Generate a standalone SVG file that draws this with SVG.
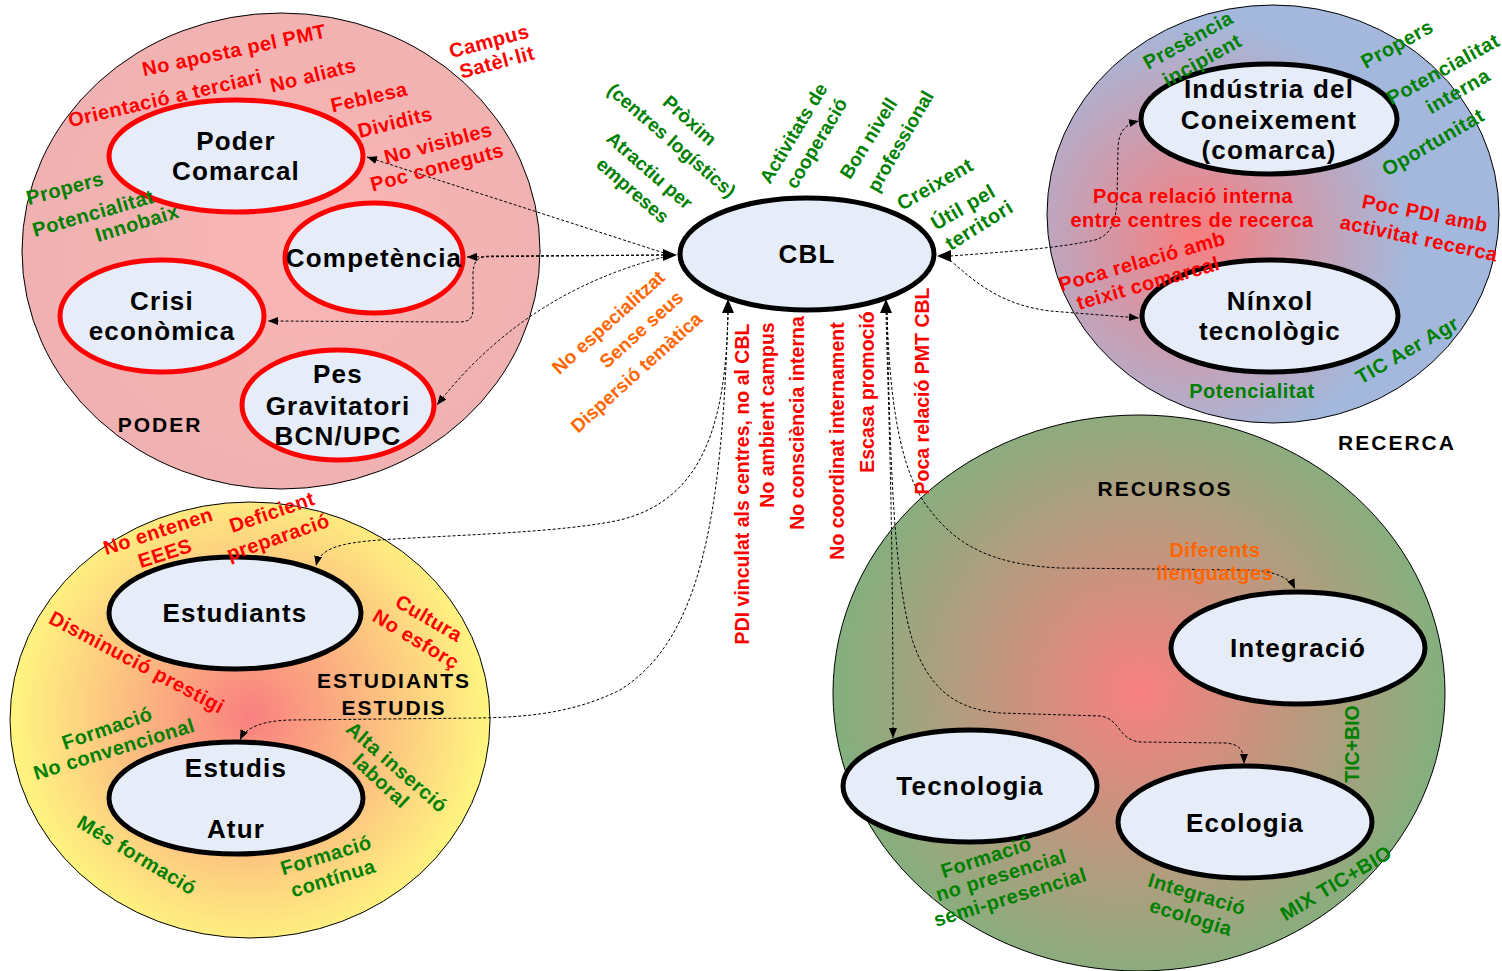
<svg xmlns="http://www.w3.org/2000/svg" width="1502" height="971" viewBox="0 0 1502 971">
<defs>
<radialGradient id="gPoder" gradientUnits="userSpaceOnUse" cx="300" cy="230" r="260">
<stop offset="0" stop-color="#FBB6B6"/><stop offset="1" stop-color="#EFB1B1"/>
</radialGradient>
<radialGradient id="gRecerca" gradientUnits="userSpaceOnUse" cx="1195" cy="235" r="215">
<stop offset="0" stop-color="#F77F7F"/><stop offset="1" stop-color="#A3B8DC"/>
</radialGradient>
<radialGradient id="gRecursos" gradientUnits="userSpaceOnUse" cx="1140" cy="690" r="320">
<stop offset="0" stop-color="#F87F7F"/><stop offset="1" stop-color="#7EB27E"/>
</radialGradient>
<radialGradient id="gEstud" gradientUnits="userSpaceOnUse" cx="250" cy="715" r="250">
<stop offset="0" stop-color="#F98080"/><stop offset="1" stop-color="#FFFB80"/>
</radialGradient>
<marker id="ah" markerWidth="10" markerHeight="8" refX="10" refY="4" orient="auto" markerUnits="userSpaceOnUse">
<path d="M0,0 L10,4 L0,8 z" fill="#000"/>
</marker>
<style>
.reg{stroke:#000;stroke-width:1}
.nb{fill:#E6ECF8;stroke:#000;stroke-width:5}
.nr{fill:#E6ECF8;stroke:#FF0000;stroke-width:5}
text{font-family:"Liberation Sans",Arial,sans-serif;font-weight:bold;text-anchor:middle}
.nt{font-size:26px;letter-spacing:1.2px;fill:#000}
.rt{font-size:21px;letter-spacing:2px;fill:#000}
.lb{font-size:20px;letter-spacing:0.5px}
.st{font-size:19px;letter-spacing:0}
.vt{font-size:19.5px;letter-spacing:0}
.r{fill:#FF0000}.g{fill:#008000}.o{fill:#FF6600}
.cn{fill:none;stroke:#000;stroke-width:1;stroke-dasharray:3 2}
</style>
</defs>
<rect width="1502" height="971" fill="#FFFFFF"/>

<g id="region-poder"><ellipse class="reg" cx="281" cy="251" rx="259" ry="238" fill="url(#gPoder)"/></g>
<g id="region-recerca"><ellipse class="reg" cx="1273" cy="214" rx="226" ry="209" fill="url(#gRecerca)"/></g>
<g id="region-recursos"><ellipse class="reg" cx="1139" cy="693" rx="306" ry="278" fill="url(#gRecursos)"/></g>
<g id="region-estudiants"><ellipse class="reg" cx="250" cy="720" rx="240" ry="218" fill="url(#gEstud)"/></g>

<g id="connectors">
<path class="cn" d="M664,253 L367,157" marker-end="url(#ah)"/>
<path class="cn" d="M664,255 L467,257" marker-end="url(#ah)"/>
<path class="cn" d="M664,255 L492,256 C476,256 473,262 473,276 L473,308 C473,319 469,322 458,322 L268,321" marker-end="url(#ah)"/>
<path class="cn" d="M664,257 Q525,292 437,405" marker-end="url(#ah)"/>
<path class="cn" d="M728,312 C726,430 700,500 620,520 C560,533 450,535 380,540 C340,543 320,548 316,566" marker-end="url(#ah)"/>
<path class="cn" d="M728,312 C722,520 700,640 620,690 C570,715 520,717 480,718 L290,720 C262,721 246,727 240,740" marker-end="url(#ah)"/>
<path class="cn" d="M886,312 C888,400 893,500 893,738" marker-end="url(#ah)"/>
<path class="cn" d="M887,312 C890,450 893,600 918,655 C938,700 968,710 1000,713 L1100,716 C1120,718 1118,740 1140,742 L1225,743 C1240,744 1244,750 1244,764" marker-end="url(#ah)"/>
<path class="cn" d="M887,312 C890,420 905,480 930,510 C960,550 1000,565 1060,568 L1250,570 C1275,571 1290,578 1295,589" marker-end="url(#ah)"/>
<path class="cn" d="M950,256 C1005,252 1060,248 1095,240 C1112,235 1116,220 1117,200 L1118,150 C1118,132 1125,124 1139,121" marker-end="url(#ah)"/>
<path class="cn" d="M950,260 C978,285 1003,305 1050,311 L1139,318" marker-end="url(#ah)"/>
<polygon points="663,249 677,255 663,261" fill="#000"/>
<polygon points="722,313 728,299 734,313" fill="#000"/>
<polygon points="880,313 886,299 892,313" fill="#000"/>
<polygon points="951,250 937,256 951,262" fill="#000"/>
</g>

<g id="node-cbl"><ellipse class="nb" cx="807" cy="254" rx="127" ry="56"/><text class="nt" x="807" y="263">CBL</text></g>
<g id="node-poder-comarcal"><ellipse class="nr" cx="236" cy="156" rx="127" ry="56"/><text class="nt" x="236" y="150">Poder</text><text class="nt" x="236" y="180">Comarcal</text></g>
<g id="node-competencia"><ellipse class="nr" cx="374" cy="258" rx="89" ry="55"/><text class="nt" x="374" y="267">Competència</text></g>
<g id="node-crisi"><ellipse class="nr" cx="162" cy="316" rx="102" ry="56"/><text class="nt" x="162" y="310">Crisi</text><text class="nt" x="162" y="340">econòmica</text></g>
<g id="node-pes"><ellipse class="nr" cx="338" cy="405" rx="96" ry="55"/><text class="nt" x="338" y="383">Pes</text><text class="nt" x="338" y="415">Gravitatori</text><text class="nt" x="338" y="445">BCN/UPC</text></g>
<g id="node-industria"><ellipse class="nb" cx="1269" cy="119" rx="128" ry="55"/><text class="nt" x="1269" y="98">Indústria del</text><text class="nt" x="1269" y="129">Coneixement</text><text class="nt" x="1269" y="159">(comarca)</text></g>
<g id="node-ninxol"><ellipse class="nb" cx="1270" cy="316" rx="128" ry="56"/><text class="nt" x="1270" y="310">Nínxol</text><text class="nt" x="1270" y="340">tecnològic</text></g>
<g id="node-estudiants"><ellipse class="nb" cx="235" cy="613" rx="126" ry="56"/><text class="nt" x="235" y="622">Estudiants</text></g>
<g id="node-estudis"><ellipse class="nb" cx="236" cy="798" rx="127" ry="56"/><text class="nt" x="236" y="777">Estudis</text><text class="nt" x="236" y="838">Atur</text></g>
<g id="node-integracio"><ellipse class="nb" cx="1298" cy="648" rx="127" ry="56"/><text class="nt" x="1298" y="657">Integració</text></g>
<g id="node-tecnologia"><ellipse class="nb" cx="970" cy="786" rx="127" ry="56"/><text class="nt" x="970" y="795">Tecnologia</text></g>
<g id="node-ecologia"><ellipse class="nb" cx="1245" cy="822" rx="127" ry="56"/><text class="nt" x="1245" y="832">Ecologia</text></g>

<g id="labels-poder">
<text class="rt" x="160" y="432">PODER</text>
<text class="lb r" transform="translate(234,50) rotate(-12)" y="7">No aposta pel PMT</text>
<text class="lb r" transform="translate(165,98) rotate(-13)" y="7">Orientació a terciari</text>
<text class="lb r" transform="translate(313,75) rotate(-14)" y="7">No aliats</text>
<text class="lb r" transform="translate(369,97) rotate(-13)" y="7">Feblesa</text>
<text class="lb r" transform="translate(395,122) rotate(-14)" y="7">Dividits</text>
<text class="lb r" transform="translate(438,143) rotate(-15)" y="7">No visibles</text>
<text class="lb r" transform="translate(437,167) rotate(-15)" y="7">Poc coneguts</text>
<text class="lb r" transform="translate(489,41) rotate(-15)" y="7">Campus</text>
<text class="lb r" transform="translate(497,62) rotate(-15)" y="7">Satèl·lit</text>
<text class="lb g" transform="translate(65,188) rotate(-15)" y="7">Propers</text>
<text class="lb g" transform="translate(93,213) rotate(-16)" y="7">Potencialitat</text>
<text class="lb g" transform="translate(137,223) rotate(-17)" y="7">Innobaix</text>
</g>

<g id="labels-cbl">
<text class="st g" transform="translate(690,120) rotate(42)" y="7">Pròxim</text>
<text class="st g" transform="translate(672,140) rotate(41)" y="7">(centres logístics)</text>
<text class="st g" transform="translate(650,170) rotate(41)" y="7">Atractiu per</text>
<text class="st g" transform="translate(633,190) rotate(41)" y="7">empreses</text>
<text class="st g" transform="translate(793,133) rotate(-59)" y="7">Activitats de</text>
<text class="st g" transform="translate(816,143) rotate(-59)" y="7">cooperació</text>
<text class="st g" transform="translate(868,138) rotate(-58)" y="7">Bon nivell</text>
<text class="st g" transform="translate(900,141) rotate(-60)" y="7">professional</text>
<text class="lb g" transform="translate(935,184) rotate(-30)" y="7">Creixent</text>
<text class="lb g" transform="translate(963,207) rotate(-30)" y="7">Útil pel</text>
<text class="lb g" transform="translate(979,225) rotate(-32)" y="7">territori</text>
<text class="st o" transform="translate(608,322) rotate(-42)" y="7">No especialitzat</text>
<text class="st o" transform="translate(641,329) rotate(-42)" y="7">Sense seus</text>
<text class="st o" transform="translate(636,372) rotate(-42)" y="7">Dispersió temàtica</text>
<text class="vt r" transform="translate(742,484) rotate(-90)" y="7">PDI vinculat als centres, no al CBL</text>
<text class="vt r" transform="translate(767,415) rotate(-90)" y="7">No ambient campus</text>
<text class="vt r" transform="translate(797,423) rotate(-90)" y="7">No consciència interna</text>
<text class="vt r" transform="translate(837,441) rotate(-90)" y="7">No coordinat internament</text>
<text class="vt r" transform="translate(867,392) rotate(-90)" y="7">Escasa promoció</text>
<text class="vt r" transform="translate(922,391) rotate(-90)" y="7">Poca relació PMT CBL</text>
</g>

<g id="labels-recerca">
<text class="rt" x="1397" y="450">RECERCA</text>
<text class="lb g" transform="translate(1188,40) rotate(-29)" y="7">Presència</text>
<text class="lb g" transform="translate(1202,60) rotate(-29)" y="7">incipient</text>
<text class="lb g" transform="translate(1397,44) rotate(-29)" y="7">Propers</text>
<text class="lb g" transform="translate(1443,69) rotate(-29)" y="7">Potencialitat</text>
<text class="lb g" transform="translate(1458,91) rotate(-30)" y="7">interna</text>
<text class="lb g" transform="translate(1433,142) rotate(-30)" y="7">Oportunitat</text>
<text class="lb r" x="1193" y="203">Poca relació interna</text>
<text class="lb r" x="1192" y="227">entre centres de recerca</text>
<text class="lb r" transform="translate(1425,213) rotate(11)" y="7">Poc PDI amb</text>
<text class="lb r" transform="translate(1419,238) rotate(12)" y="7">activitat recerca</text>
<text class="lb r" transform="translate(1142,261) rotate(-16)" y="7">Poca relació amb</text>
<text class="lb r" transform="translate(1148,283) rotate(-16)" y="7">teixit comarcal</text>
<text class="lb g" x="1252" y="398">Potencialitat</text>
<text class="lb g" transform="translate(1407,350) rotate(-30)" y="7">TIC Aer Agr</text>
</g>

<g id="labels-estudiants">
<text class="rt" x="394" y="688">ESTUDIANTS</text>
<text class="rt" x="394" y="715">ESTUDIS</text>
<text class="lb r" transform="translate(158,531) rotate(-18)" y="7">No entenen</text>
<text class="lb r" transform="translate(165,553) rotate(-18)" y="7">EEES</text>
<text class="lb r" transform="translate(272,512) rotate(-19)" y="7">Deficient</text>
<text class="lb r" transform="translate(278,537) rotate(-19)" y="7">preparació</text>
<text class="lb r" transform="translate(429,618) rotate(30)" y="7">Cultura</text>
<text class="lb r" transform="translate(416,639) rotate(31)" y="7">No esforç</text>
<text class="lb r" transform="translate(137,662) rotate(28)" y="7">Disminució prestigi</text>
<text class="lb g" transform="translate(107,728) rotate(-19)" y="7">Formació</text>
<text class="lb g" transform="translate(114,749) rotate(-17)" y="7">No convencional</text>
<text class="lb g" transform="translate(397,767) rotate(41)" y="7">Alta inserció</text>
<text class="lb g" transform="translate(381,781) rotate(43)" y="7">laboral</text>
<text class="lb g" transform="translate(137,855) rotate(31)" y="7">Més formació</text>
<text class="lb g" transform="translate(326,855) rotate(-17)" y="7">Formació</text>
<text class="lb g" transform="translate(333,878) rotate(-17)" y="7">contínua</text>
</g>

<g id="labels-recursos">
<text class="rt" x="1165" y="496">RECURSOS</text>
<text class="lb o" x="1215" y="557">Diferents</text>
<text class="lb o" x="1215" y="580">llenguatges</text>
<text class="vt g" transform="translate(1352,744) rotate(-90)" y="7">TIC+BIO</text>
<text class="lb g" transform="translate(986,857) rotate(-18)" y="7">Formació</text>
<text class="lb g" transform="translate(1001,875) rotate(-17)" y="7">no presencial</text>
<text class="lb g" transform="translate(1010,897) rotate(-17)" y="7">semi-presencial</text>
<text class="lb g" transform="translate(1197,894) rotate(17)" y="7">Integració</text>
<text class="lb g" transform="translate(1191,917) rotate(17)" y="7">ecologia</text>
<text class="lb g" transform="translate(1336,883) rotate(-31)" y="7">MIX TIC+BIO</text>
</g>
</svg>
